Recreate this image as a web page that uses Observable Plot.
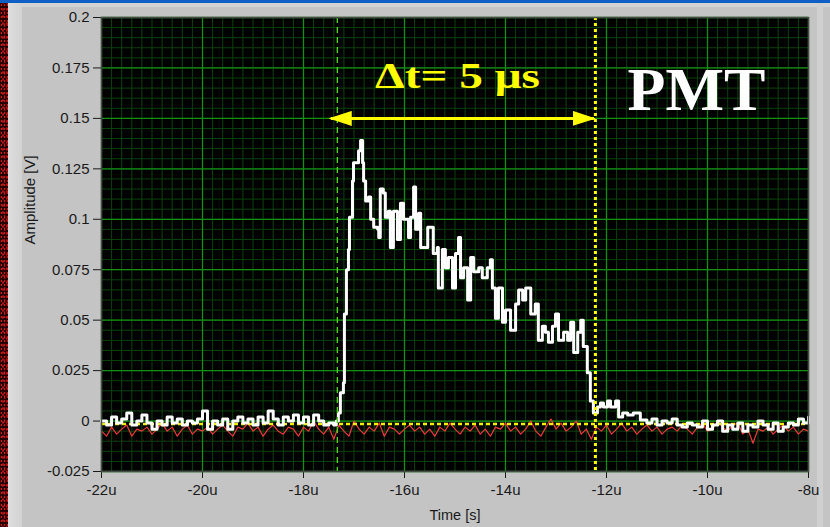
<!DOCTYPE html>
<html>
<head>
<meta charset="utf-8">
<script src="https://cdn.jsdelivr.net/npm/d3@7"></script>
<script src="https://cdn.jsdelivr.net/npm/@observablehq/plot@0.6"></script>
<style>
  html, body { margin: 0; padding: 0; background: #c4c4c4; }
  #panel { position: relative; width: 830px; height: 527px; overflow: hidden; background: #c4c4c4; }
  #topbar { position: absolute; left: 0; top: 0; width: 830px; height: 3px; background: #0d5fc6; }
  #topband { position: absolute; left: 22px; top: 3px; width: 808px; height: 4px; background: #d2d2d2; }
  #speckle { position: absolute; left: 0; top: 3px; width: 8px; height: 524px;
    background-color: #240000;
    background-image:
      radial-gradient(#d01818 0.7px, transparent 1.1px),
      radial-gradient(#8a1010 0.7px, transparent 1.1px),
      radial-gradient(#b01414 0.6px, transparent 1px);
    background-size: 3px 4px, 5px 3px, 4px 7px;
    background-position: 0 0, 2px 1px, 1px 3px; }
  #edge { position: absolute; left: 8px; top: 3px; width: 14px; height: 524px;
    background: linear-gradient(to right, #dedede, #d2d2d2); }
  #rightedge { position: absolute; left: 817px; top: 3px; width: 6px; height: 524px; background: #d0d0d0; }
  #chart { position: absolute; left: 0; top: 0; }
</style>
</head>
<body>
<div id="panel">
  <div id="topbar"></div>
  <div id="topband"></div>
  <div id="speckle"></div>
  <div id="edge"></div>
  <div id="rightedge"></div>
  <div id="chart"></div>
</div>
<script>
// Axis ticks (time in microseconds, amplitude in volts)
const xTicks = [-22, -20, -18, -16, -14, -12, -10, -8];
const xTickLabels = ["-22u", "-20u", "-18u", "-16u", "-14u", "-12u", "-10u", "-8u"];
const yTicks = [-0.025, 0, 0.025, 0.05, 0.075, 0.1, 0.125, 0.15, 0.175, 0.2];
const yTickLabels = ["-0.025", "0", "0.025", "0.05", "0.075", "0.1", "0.125", "0.15", "0.175", "0.2"];

// PMT signal: baseline before the pulse, sampled every 0.1 us from -22 us
const preStart = -22.0;
const whitePre = [
  0.000, -0.002, 0.002, -0.001, 0.001, 0.004, -0.002, 0.000, 0.003, -0.001,
  -0.004, 0.000, -0.002, 0.002, -0.001, 0.001, -0.002, 0.000, -0.001, 0.001,
  0.005, -0.004, 0.000, -0.002, 0.001, -0.004, 0.000, 0.002, -0.001, 0.001,
  -0.002, 0.002, -0.001, 0.005, 0.001, -0.002, 0.002, 0.000, 0.003, -0.001,
  0.002, -0.002, 0.003, 0.000, -0.002, -0.001, -0.002
];

// PMT signal: the pulse itself (time in us, amplitude in V)
const pulseTime = [
  -17.35, -17.31, -17.27, -17.21, -17.19, -17.15, -17.11, -17.09, -17.03, -17.01,
  -16.93, -16.91, -16.87, -16.83, -16.81, -16.77, -16.71, -16.67, -16.61, -16.53,
  -16.51, -16.48, -16.42, -16.38, -16.32, -16.28, -16.22, -16.14, -16.08, -16.02,
  -15.92, -15.88, -15.82, -15.78, -15.72, -15.68, -15.62, -15.54, -15.45, -15.43,
  -15.35, -15.33, -15.25, -15.19, -15.13, -15.05, -14.99, -14.93, -14.89, -14.83,
  -14.75, -14.69, -14.63, -14.53, -14.46, -14.36, -14.30, -14.26, -14.20, -14.14,
  -14.06, -14.00, -13.90, -13.80, -13.74, -13.66, -13.60, -13.50, -13.41, -13.35,
  -13.27, -13.21, -13.15, -13.07, -13.01, -12.95, -12.85, -12.77, -12.71, -12.65,
  -12.57, -12.51, -12.46, -12.38, -12.32, -12.26, -12.18, -12.12, -12.06, -11.98,
  -11.92, -11.82, -11.76, -11.68, -11.58, -11.47, -11.33
];
const pulseAmp = [
  0.000, 0.004, 0.014, 0.019, 0.053, 0.075, 0.085, 0.101, 0.119, 0.128,
  0.128, 0.134, 0.139, 0.128, 0.119, 0.109, 0.111, 0.100, 0.096, 0.095,
  0.091, 0.115, 0.113, 0.101, 0.104, 0.086, 0.104, 0.090, 0.108, 0.100,
  0.091, 0.101, 0.116, 0.095, 0.103, 0.086, 0.086, 0.096, 0.096, 0.083,
  0.086, 0.066, 0.085, 0.076, 0.081, 0.066, 0.083, 0.091, 0.071, 0.076,
  0.060, 0.081, 0.074, 0.076, 0.071, 0.076, 0.080, 0.066, 0.051, 0.066,
  0.049, 0.055, 0.045, 0.058, 0.065, 0.060, 0.066, 0.053, 0.058, 0.040,
  0.047, 0.044, 0.039, 0.047, 0.053, 0.040, 0.044, 0.040, 0.049, 0.034,
  0.044, 0.050, 0.037, 0.024, 0.010, 0.004, 0.007, 0.009, 0.007, 0.010,
  0.007, 0.010, 0.002, 0.004, 0.003, 0.004, 0.0005
];

// PMT signal: baseline after the pulse, sampled every 0.1 us from -11.2 us
const tailStart = -11.2;
const whiteTail = [
  -0.001, 0.001, -0.002, 0.000, -0.001, 0.001, -0.002, -0.003, -0.001, -0.002,
  -0.003, 0.000, -0.004, -0.002, 0.000, -0.005, -0.002, -0.004, -0.001, -0.005,
  -0.002, -0.003, 0.000, -0.002, -0.004, -0.001, -0.005, -0.003, -0.001, -0.002,
  0.001, -0.001, 0.002
];

// Reference channel noise, sampled every 0.1 us from -22 us
const refStart = -22.0;
const refNoise = [
  -0.005, -0.0075, -0.003, -0.0065, -0.004, -0.002, -0.0075, -0.004, -0.005, -0.003,
  -0.0065, -0.004, -0.001, -0.005, -0.003, -0.0075, -0.004, -0.002, -0.0065, -0.004,
  -0.005, -0.003, -0.0065, -0.004, -0.002, -0.005, -0.0075, -0.003, -0.004, -0.001,
  -0.005, -0.003, -0.0075, -0.004, -0.002, -0.005, -0.0065, -0.003, -0.004, -0.0075,
  -0.003, -0.005, 0.000, -0.004, -0.0065, -0.003, -0.009, -0.002, -0.005, -0.0075,
  0.000, -0.004, -0.0065, -0.003, -0.005, -0.001, -0.0075, -0.003, -0.004, -0.0065,
  -0.004, -0.002, -0.005, -0.003, -0.0065, -0.004, -0.0075, -0.003, -0.005, -0.001,
  -0.004, -0.0065, -0.003, -0.005, -0.002, -0.0065, -0.004, -0.0075, -0.003, -0.004,
  -0.001, -0.005, -0.003, -0.0065, -0.004, 0.000, -0.005, -0.0075, -0.003, 0.001,
  -0.004, -0.001, -0.005, -0.003, 0.000, -0.0065, -0.004, -0.009, -0.003, -0.005,
  -0.002, -0.0065, -0.004, -0.001, -0.005, -0.003, -0.0065, -0.004, -0.002, -0.005,
  -0.003, -0.0065, -0.004, -0.003, -0.005, -0.002, -0.004, -0.0065, -0.003, -0.001,
  -0.005, -0.004, 0.000, -0.003, -0.005, -0.002, -0.001, -0.0065, -0.004, -0.011,
  -0.004, -0.005, -0.003, -0.0065, -0.004, -0.002, -0.005, -0.003, -0.0065, -0.004,
  -0.005
];

// Cursor positions and levels
const cursorStart = -17.33;   // green cursor: pulse onset
const cursorEnd = -12.22;     // yellow cursor: pulse end
const baselineLevel = -0.0015;
const floorLevel = -0.0095;
const arrowLevel = 0.15;
const deltaLabel = "Δt= 5 μs";
const detectorLabel = "PMT";

const signal = [
  ...whitePre.map((v, i) => ({t: preStart + i * 0.1, v})),
  ...pulseTime.map((t, i) => ({t, v: pulseAmp[i]})),
  ...whiteTail.map((v, i) => ({t: tailStart + i * 0.1, v}))
];
const reference = refNoise.map((v, i) => ({t: refStart + i * 0.1, v}));

const minorX = d3.range(-22, -7.99, 0.2);
const minorY = d3.range(-0.025, 0.2001, 0.005);

const chart = Plot.plot({
  width: 830,
  height: 527,
  marginLeft: 101,
  marginRight: 22,
  marginTop: 17,
  marginBottom: 56,
  style: {
    background: "transparent",
    color: "#1a1a1a",
    fontFamily: "'Liberation Sans', Arial, sans-serif",
    fontSize: "15px"
  },
  x: {
    domain: [-22, -8],
    ticks: xTicks,
    tickFormat: (d) => xTickLabels[xTicks.indexOf(d)],
    tickSize: 7,
    tickPadding: 6,
    label: null
  },
  y: {
    domain: [-0.025, 0.2],
    ticks: yTicks,
    tickFormat: (d) => yTickLabels[yTicks.findIndex((t) => Math.abs(t - d) < 1e-9)],
    tickSize: 8,
    tickPadding: 4,
    label: null
  },
  marks: [
    Plot.frame({fill: "black"}),
    Plot.ruleX(minorX, {stroke: "#0b430b", strokeWidth: 1}),
    Plot.ruleY(minorY, {stroke: "#0b430b", strokeWidth: 1}),
    Plot.ruleX(xTicks, {stroke: "#138f13", strokeWidth: 1.3}),
    Plot.ruleY(yTicks, {stroke: "#138f13", strokeWidth: 1.3}),
    Plot.ruleY([floorLevel], {stroke: "#6a1010", strokeWidth: 1, strokeDasharray: "1,6"}),
    Plot.line(reference, {x: "t", y: "v", stroke: "#ee3a3a", strokeWidth: 1.2}),
    Plot.ruleY([baselineLevel], {stroke: "#f0f000", strokeWidth: 2.5, strokeDasharray: "4,3"}),
    Plot.line(signal, {x: "t", y: "v", stroke: "#ffffff", strokeWidth: 3, curve: "step-after"}),
    Plot.ruleX([cursorStart], {stroke: "#4fd21c", strokeWidth: 1.4, strokeDasharray: "6,4"}),
    Plot.ruleX([cursorEnd], {stroke: "#ffff00", strokeWidth: 3, strokeDasharray: "3,3"}),
    Plot.link([{a: cursorStart - 0.13, b: cursorEnd - 0.03, v: arrowLevel}],
      {x1: "a", x2: "b", y1: "v", y2: "v", stroke: "#ffff00", strokeWidth: 3}),
    Plot.text([{t: -14.95, v: 0.171, s: deltaLabel}],
      {x: "t", y: "v", text: "s", fill: "#ffff00", fontFamily: "'Liberation Serif', 'Times New Roman', serif",
       fontWeight: "bold", fontSize: 36, textAnchor: "middle", lineAnchor: "middle"}),
    Plot.text([{t: -10.22, v: 0.164, s: detectorLabel}],
      {x: "t", y: "v", text: "s", fill: "#ffffff", fontFamily: "'Liberation Serif', 'Times New Roman', serif",
       fontWeight: "bold", fontSize: 62, textAnchor: "middle", lineAnchor: "middle"}),
    Plot.text(["Amplitude [V]"], {frameAnchor: "left", dx: -71, rotate: -90, fontSize: 15, fill: "#1a1a1a", lineAnchor: "middle"}),
    Plot.text(["Time [s]"], {frameAnchor: "bottom", dy: 44, fontSize: 14.5, fill: "#1a1a1a", lineAnchor: "middle"}),
    Plot.frame({stroke: "#4a4a4a", strokeWidth: 1.5})
  ]
});

// Filled arrowheads at both ends of the interval arrow
const ns = "http://www.w3.org/2000/svg";
const defs = document.createElementNS(ns, "defs");
const marker = document.createElementNS(ns, "marker");
marker.setAttribute("id", "interval-head");
marker.setAttribute("viewBox", "0 0 23 15");
marker.setAttribute("refX", "21");
marker.setAttribute("refY", "7.5");
marker.setAttribute("markerWidth", "23");
marker.setAttribute("markerHeight", "15");
marker.setAttribute("markerUnits", "userSpaceOnUse");
marker.setAttribute("orient", "auto-start-reverse");
const head = document.createElementNS(ns, "path");
head.setAttribute("d", "M0,0L23,7.5L0,15Z");
head.setAttribute("fill", "#ffff00");
marker.appendChild(head);
defs.appendChild(marker);
chart.insertBefore(defs, chart.firstChild);
const linkPath = chart.querySelector('g[aria-label="link"] path');
if (linkPath) {
  linkPath.setAttribute("marker-start", "url(#interval-head)");
  linkPath.setAttribute("marker-end", "url(#interval-head)");
}
// The interval label is set wide, as in the scope annotation
chart.querySelectorAll('g[aria-label="text"] text').forEach((el) => {
  if (el.textContent === deltaLabel) {
    el.setAttribute("textLength", "165");
    el.setAttribute("lengthAdjust", "spacingAndGlyphs");
  }
});

document.getElementById("chart").appendChild(chart);
</script>
</body>
</html>
